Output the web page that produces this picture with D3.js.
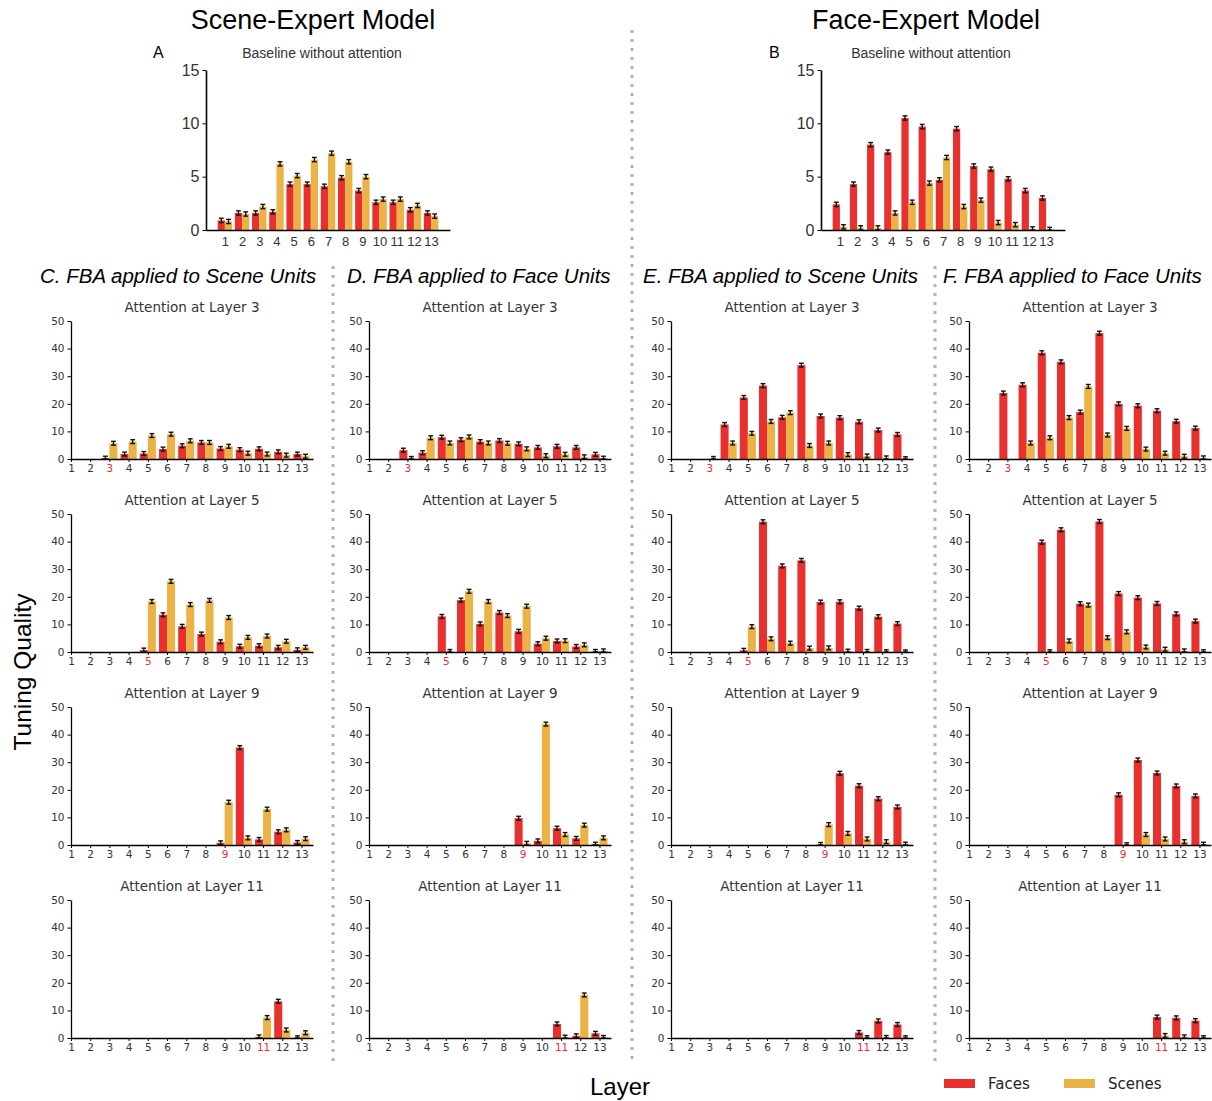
<!DOCTYPE html>
<html>
<head>
<meta charset="utf-8">
<script src="https://cdn.jsdelivr.net/npm/d3@7"></script>
<style>
body { margin: 0; background: #fff; }
</style>
</head>
<body>
<div class="mainContainer"></div>
<script>
// layers 1..13
const layers = d3.range(1, 14);
const attnLayers = [3, 5, 9, 11];
const pad = (k, arr) => Array(k).fill(null).concat(arr);

// baseline, no attention
const aFaces  = [0.9, 1.6, 1.6, 1.7, 4.3, 4.3, 4.1, 4.9, 3.7, 2.6, 2.6, 1.9, 1.6];
const aScenes = [0.8, 1.5, 2.2, 6.2, 5.1, 6.6, 7.2, 6.4, 5.0, 2.9, 2.9, 2.3, 1.3];
const bFaces  = [2.4, 4.3, 8.0, 7.3, 10.5, 9.7, 4.7, 9.5, 6.0, 5.7, 4.8, 3.7, 3.0];
const bScenes = [0.3, 0.2, 0.2, 1.6, 2.6, 4.4, 6.8, 2.2, 2.8, 0.7, 0.5, 0.1, 0.05];

// rows = attention at layer 3, 5, 9, 11
const cFaces = [
  pad(2, [0.3, 1.8, 2.0, 3.6, 4.8, 6.0, 3.8, 3.4, 3.7, 2.6, 1.8]),
  pad(4, [0.7, 13.5, 9.3, 6.5, 3.7, 2.1, 2.3, 1.7, 0.8]),
  pad(8, [0.8, 35.3, 2.0, 4.8, 0.9]),
  pad(10, [0.4, 13.3, 0.1])
];
const cScenes = [
  pad(2, [5.7, 6.3, 8.5, 9.0, 6.6, 6.0, 4.6, 2.1, 1.8, 1.4, 1.0]),
  pad(4, [18.3, 25.6, 17.2, 18.7, 12.5, 5.3, 5.8, 3.9, 1.7]),
  pad(8, [15.5, 2.6, 13.0, 5.5, 2.3]),
  pad(10, [7.4, 2.9, 1.9])
];
const dFaces = [
  pad(2, [3.2, 2.3, 7.9, 7.0, 6.3, 6.7, 5.5, 4.2, 4.6, 4.2, 1.7]),
  pad(4, [12.9, 18.8, 10.2, 14.3, 7.5, 3.0, 4.0, 2.0, 0.2]),
  pad(8, [9.7, 1.5, 6.1, 2.4, 0.3]),
  pad(10, [5.1, 0.8, 1.7])
];
const dScenes = [
  pad(2, [0.2, 7.7, 5.8, 8.0, 5.8, 5.7, 3.7, 1.2, 1.7, 0.8, 0.3]),
  pad(4, [0.2, 22.0, 18.3, 13.2, 16.6, 5.0, 4.1, 2.6, 0.4]),
  pad(8, [0.6, 43.8, 3.8, 7.2, 2.6]),
  pad(10, [0.3, 15.6, 0.2])
];
const eFaces = [
  pad(3, [12.5, 22.3, 26.6, 15.1, 34.0, 15.6, 15.0, 13.5, 10.5, 8.9]),
  pad(4, [0.6, 47.2, 31.2, 33.2, 18.1, 18.2, 15.9, 12.8, 10.3]),
  pad(8, [0.2, 26.0, 21.5, 16.8, 13.8]),
  pad(10, [2.0, 6.2, 4.9])
];
const eScenes = [
  pad(2, [0.2, 5.8, 9.3, 13.6, 16.8, 4.9, 5.8, 1.6, 1.1, 0.4, 0.1]),
  pad(4, [9.2, 4.8, 3.2, 1.4, 1.5, 0.3, 0.2, 0.1, 0.05]),
  pad(8, [7.4, 4.2, 2.2, 1.2, 0.3]),
  pad(10, [0.1, 0.2, 0.1])
];
const fFaces = [
  pad(2, [23.9, 26.9, 38.5, 35.2, 17.0, 45.6, 20.0, 19.3, 17.5, 13.7, 11.2]),
  pad(4, [39.8, 44.3, 17.5, 47.3, 21.2, 19.7, 17.6, 13.8, 11.2]),
  pad(8, [18.2, 30.8, 26.1, 21.4, 17.8]),
  pad(10, [7.6, 7.3, 6.3])
];
const fScenes = [
  pad(3, [5.8, 7.7, 15.0, 26.3, 8.7, 11.1, 3.6, 2.1, 1.0, 0.4]),
  pad(4, [0.1, 4.0, 17.0, 5.2, 7.3, 1.8, 1.0, 0.4, 0.1]),
  pad(8, [0.1, 3.8, 2.2, 1.2, 0.3]),
  pad(10, [0.9, 0.4, 0.1])
];

const RED = '#e8302e', GOLD = '#ebb246';
const SANS = '"Liberation Sans", Arial, sans-serif';
const DJV = '"DejaVu Sans", sans-serif';

const svg = d3.select('.mainContainer')
  .append('svg')
  .attr('width', 1212)
  .attr('height', 1101)
  .style('display', 'block');

const panel = (tx, ty, faces, scenes, o) => {
  const g = svg.append('g').attr('transform', `translate(${tx},${ty})`);
  const x = d3.scaleLinear().domain(o.xDomain).range([0, o.w]);
  const y = d3.scaleLinear().domain([0, o.max]).range([o.h, 0]);
  const bw = (x(2) - x(1)) * o.bw;

  const rows = layers.map((l, i) => ({ l, f: faces[i], s: scenes[i] }));
  const drawSeries = (key, col, off) => {
    const d = rows.filter(r => r[key] != null);
    g.selectAll(null).data(d).enter().append('rect')
      .attr('x', r => x(r.l) + off * bw)
      .attr('y', r => y(r[key]))
      .attr('width', bw)
      .attr('height', r => o.h - y(r[key]))
      .attr('fill', col);
    // error bars
    const top = r => y(r[key] + o.err), bot = r => y(Math.max(0, r[key] - o.err));
    const eb = g.selectAll(null).data(d).enter().append('g')
      .attr('transform', r => `translate(${x(r.l) + off * bw + bw / 2},0)`)
      .attr('stroke', '#111').attr('stroke-width', 1.4);
    eb.append('line').attr('y1', top).attr('y2', bot);
    eb.append('line').attr('x1', -2.4).attr('x2', 2.4).attr('y1', top).attr('y2', top);
    eb.append('line').attr('x1', -2.4).attr('x2', 2.4).attr('y1', bot).attr('y2', bot);
  };
  drawSeries('f', RED, -1);
  drawSeries('s', GOLD, 0);

  const yAxis = d3.axisLeft(y).tickValues(o.yTicks).tickSize(3.5).tickSizeOuter(0).tickPadding(3);
  const xAxis = d3.axisBottom(x).tickValues(layers).tickSize(o.xTick).tickSizeOuter(0).tickPadding(o.xPad);

  const ya = g.append('g').call(yAxis);
  const xa = g.append('g').attr('transform', `translate(0,${o.h})`).call(xAxis);
  [ya, xa].forEach(a => {
    a.select('.domain').attr('stroke', '#000').attr('stroke-width', o.line);
    a.selectAll('.tick line').attr('stroke', '#000').attr('stroke-width', 1);
  });
  ya.selectAll('text').attr('font-family', o.yFam).attr('font-size', o.yFont).attr('fill', '#333');
  xa.selectAll('text').attr('font-family', o.xFam).attr('font-size', o.xFont)
    .attr('fill', d => d === o.hl ? RED : '#333');

  g.append('text')
    .attr('x', o.w / 2 + (o.titleDx || 0)).attr('y', o.titleY)
    .attr('text-anchor', 'middle')
    .attr('font-family', o.titleFont).attr('font-size', o.titleSize).attr('fill', '#333')
    .text(o.title);
  return g;
};

// dotted dividers
const dotted = (x, y1, y2) => svg.append('line')
  .attr('x1', x).attr('x2', x).attr('y1', y1).attr('y2', y2)
  .attr('stroke', '#b5b5b5').attr('stroke-width', 3).attr('stroke-dasharray', '3,6');
dotted(632, 30, 1062);
dotted(333, 266, 1062);
dotted(935, 266, 1062);

// top headings
svg.append('text').attr('x', 313).attr('y', 29).attr('text-anchor', 'middle')
  .attr('font-family', SANS).attr('font-size', 27).text('Scene-Expert Model');
svg.append('text').attr('x', 926).attr('y', 29).attr('text-anchor', 'middle')
  .attr('font-family', SANS).attr('font-size', 27).text('Face-Expert Model');
svg.append('text').attr('x', 153).attr('y', 58).attr('font-family', SANS).attr('font-size', 16).text('A');
svg.append('text').attr('x', 769).attr('y', 58).attr('font-family', SANS).attr('font-size', 16).text('B');

const topOpts = {
  xDomain: [-0.1, 14.1], w: 244, h: 160, max: 15, bw: 0.42, err: 0.2,
  yTicks: [0, 5, 10, 15], xTick: 0, xPad: 7, line: 1.6,
  yFam: SANS, xFam: SANS, yFont: 16, xFont: 13, hl: null,
  title: 'Baseline without attention', titleY: -12, titleDx: -6, titleFont: SANS, titleSize: 14
};
panel(206, 70, aFaces, aScenes, topOpts);
panel(821, 70, bFaces, bScenes, Object.assign({}, topOpts, { titleDx: -12 }));

// column headings
const heads = [
  [40, 'C. FBA applied to Scene Units'],
  [347, 'D. FBA applied to Face Units'],
  [643, 'E. FBA applied to Scene Units'],
  [943, 'F. FBA applied to Face Units']
];
heads.forEach(([hx, t]) => svg.append('text').attr('x', hx).attr('y', 283)
  .attr('font-family', SANS).attr('font-style', 'italic').attr('font-size', 20.5).text(t));

const colX = [71, 369, 671, 969];
const rowY = [321, 514, 707, 900];
const cols = [[cFaces, cScenes], [dFaces, dScenes], [eFaces, eScenes], [fFaces, fScenes]];
cols.forEach(([fa, sc], ci) => {
  attnLayers.forEach((al, ri) => {
    panel(colX[ci], rowY[ri], fa[ri], sc[ri], {
      xDomain: [1, 13.6], w: 242, h: 138, max: 50, bw: 0.42, err: 0.7,
      yTicks: [0, 10, 20, 30, 40, 50], xTick: 3, xPad: 2.5, line: 1.3,
      yFam: DJV, xFam: DJV, yFont: 10.5, xFont: 10.5, hl: al,
      title: `Attention at Layer ${al}`, titleY: -9, titleDx: 0, titleFont: DJV, titleSize: 13.5
    });
  });
});

// axis titles
svg.append('text').attr('transform', 'translate(31,672) rotate(-90)').attr('text-anchor', 'middle')
  .attr('font-family', SANS).attr('font-size', 24.5).text('Tuning Quality');
svg.append('text').attr('x', 620).attr('y', 1095).attr('text-anchor', 'middle')
  .attr('font-family', SANS).attr('font-size', 24).text('Layer');

// legend
const legend = [['Faces', RED, 944], ['Scenes', GOLD, 1064]];
legend.forEach(([t, c, lx]) => {
  svg.append('rect').attr('x', lx).attr('y', 1079).attr('width', 31).attr('height', 9).attr('fill', c);
  svg.append('text').attr('x', lx + 44).attr('y', 1089).attr('font-family', DJV)
    .attr('font-size', 15).attr('fill', '#222').text(t);
});
</script>
</body>
</html>
